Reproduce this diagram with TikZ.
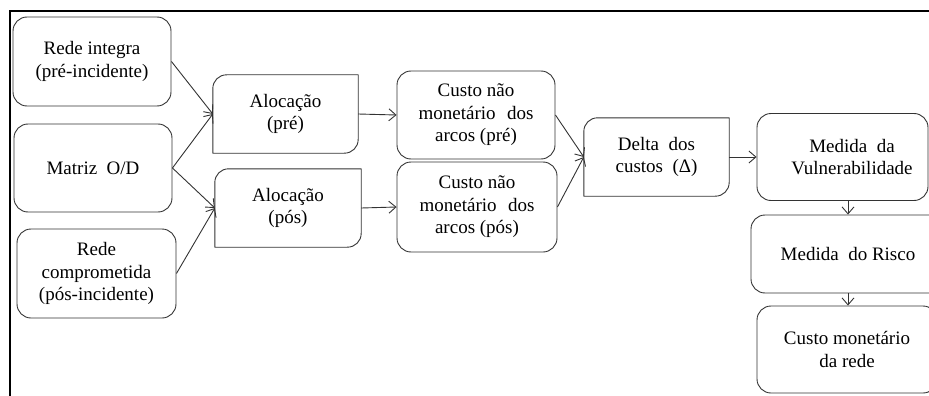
\documentclass[tikz,border=0pt]{standalone}
\usepackage{fontspec}
\setmainfont{Liberation Serif}
\usetikzlibrary{arrows.meta,calc}
\begin{document}
\begin{tikzpicture}[x=1pt,y=-1pt,
  txtfont/.style={font=\fontsize{19}{22.5}\selectfont},
  box/.style={draw=black!80, line width=0.9pt, rounded corners=14pt, align=center, inner sep=0pt, txtfont},
  plainbox/.style={align=center, inner sep=0pt, txtfont},
  boxline/.style={draw=black!80, line width=0.9pt, line join=round},
  txt/.style={align=center, inner sep=0pt, txtfont},
  arr/.style={draw=black!80, line width=0.9pt, -{Straight Barb[length=7pt,width=12pt]}},
  framestyle/.style={draw=black, line width=1.3pt}]
\useasboundingbox (0,0) rectangle (929,396);
\clip (0,0) rectangle (929,396);

% frame
\coordinate (fbl) at (10,396);
\coordinate (ftl) at (10,11);
\coordinate (ftr) at (929,11);
\draw[framestyle] (fbl) -- (ftl) -- (ftr);

% left column
\node[box, minimum width=158pt, minimum height=89pt] (ri) at (92,61.5) {Rede integra\\(pré-incidente)};
\node[box, minimum width=158pt, minimum height=88pt] (od) at (93,168) {Matriz\ \ O/D};
\node[box, minimum width=159pt, minimum height=89pt] (rc) at (96.5,273.5) {Rede\\comprometida\\(pós-incidente)};

% allocation boxes (diagonal rounded corners)
\node[plainbox, minimum width=145pt, minimum height=78pt] (ap) at (285.5,114) {Alocação\\(pré)};
\node[plainbox, minimum width=146pt, minimum height=78pt] (as) at (288,208) {Alocação\\(pós)};
\foreach \b in {ap,as}{
  \draw[boxline] (\b.south west) -- ($(\b.north west)+(0,14)$)
    .. controls ($(\b.north west)+(0,6)$) and ($(\b.north west)+(6,0)$) .. ($(\b.north west)+(14,0)$)
    -- (\b.north east) -- ($(\b.south east)+(0,-14)$)
    .. controls ($(\b.south east)+(0,-6)$) and ($(\b.south east)+(-6,0)$) .. ($(\b.south east)+(-14,0)$)
    -- cycle;
}

% cost boxes
\node[box, minimum width=158pt, minimum height=88pt] (cp) at (476,115) {Custo não\\monetário\hspace{0.6em}dos\\arcos (pré)};
\node[box, minimum width=160pt, minimum height=90pt] (cs) at (477,207) {Custo não\\monetário\hspace{0.6em}dos\\arcos (pós)};

% delta
\node[plainbox, minimum width=145pt, minimum height=78pt] (dl) at (656.5,157) {Delta\ \ dos\\custos\ \ (Δ)};
\draw[boxline] (dl.south west) -- ($(dl.north west)+(0,14)$)
    .. controls ($(dl.north west)+(0,6)$) and ($(dl.north west)+(6,0)$) .. ($(dl.north west)+(14,0)$)
    -- (dl.north east) -- ($(dl.south east)+(0,-14)$)
    .. controls ($(dl.south east)+(0,-6)$) and ($(dl.south east)+(-6,0)$) .. ($(dl.south east)+(-14,0)$)
    -- cycle;

% right column
\node[box, minimum width=171pt, minimum height=87pt] (vul) at (842.5,157) {};
\node[txt] (vult) at (852,157) {Medida\ \ da\\Vulnerabilidade};
\node[box, minimum width=194pt, minimum height=78pt] (ris) at (848,254) {Medida\ \ do Risco};
\node[box, minimum width=180pt, minimum height=87pt] (cm) at (847,349.5) {Custo monetário\\da rede};

% connectors
\draw[arr] (ri.east) -- (ap.west);
\draw[arr] (od.east) -- (ap.west);
\draw[arr] (od.east) -- (as.west);
\draw[arr] (rc.east) -- (as.west);
\draw[arr] (ap.east) -- (cp.west);
\draw[arr] (as.east) -- (cs.west);
\draw[arr] (cp.east) -- (dl.west);
\draw[arr] (cs.east) -- (dl.west);
\draw[arr] (dl.east) -- (vul.west);
\draw[arr] (vul.south -| ris.north) -- (ris.north);
\draw[arr] (ris.south) -- (cm.north -| ris.south);
\end{tikzpicture}
\end{document}
